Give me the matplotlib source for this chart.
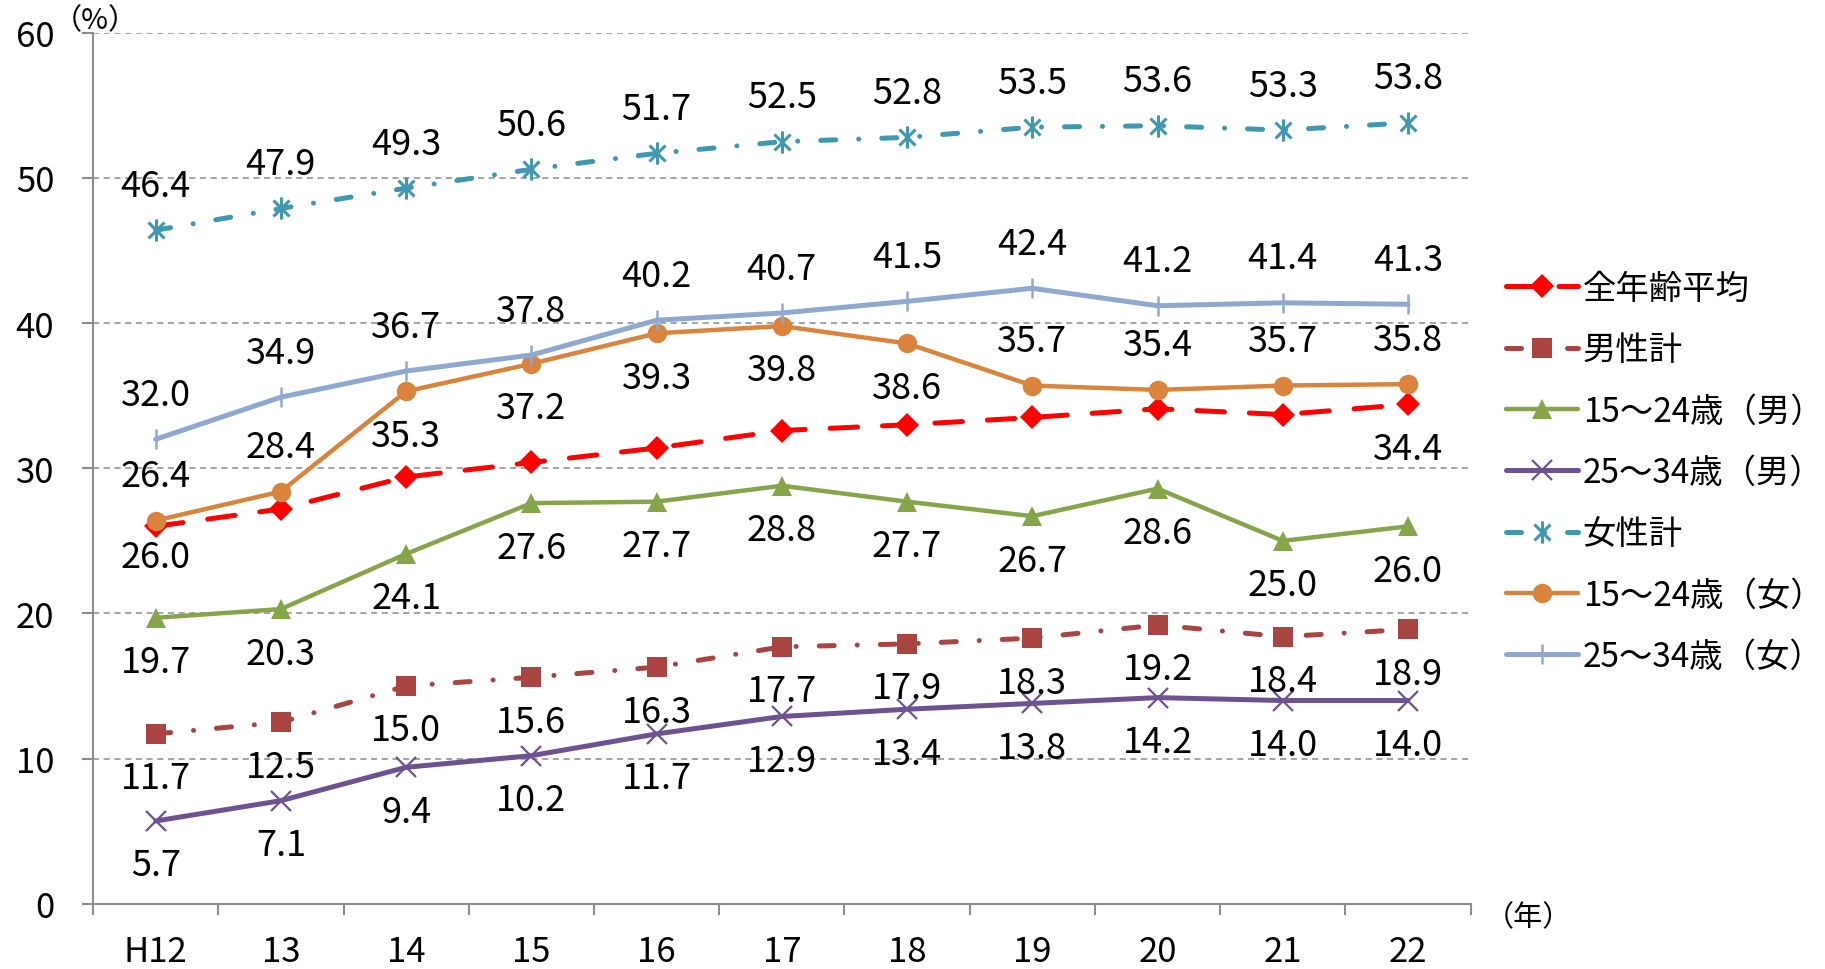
import numpy as np
import matplotlib
matplotlib.use("Agg")
import matplotlib.pyplot as plt
from matplotlib.path import Path

plt.rcParams['font.family'] = ['Noto Sans CJK JP', 'DejaVu Sans']

categories = ["H12", "13", "14", "15", "16", "17", "18", "19", "20", "21", "22"]

all_avg   = [26.0, 27.2, 29.4, 30.4, 31.4, 32.6, 33.0, 33.5, 34.1, 33.7, 34.4]
male      = [11.7, 12.5, 15.0, 15.6, 16.3, 17.7, 17.9, 18.3, 19.2, 18.4, 18.9]
male_1524 = [19.7, 20.3, 24.1, 27.6, 27.7, 28.8, 27.7, 26.7, 28.6, 25.0, 26.0]
male_2534 = [5.7, 7.1, 9.4, 10.2, 11.7, 12.9, 13.4, 13.8, 14.2, 14.0, 14.0]
female    = [46.4, 47.9, 49.3, 50.6, 51.7, 52.5, 52.8, 53.5, 53.6, 53.3, 53.8]
fem_1524  = [26.4, 28.4, 35.3, 37.2, 39.3, 39.8, 38.6, 35.7, 35.4, 35.7, 35.8]
fem_2534  = [32.0, 34.9, 36.7, 37.8, 40.2, 40.7, 41.5, 42.4, 41.2, 41.4, 41.3]

labels = ["全年齢平均", "男性計", "15～24歳（男）", "25～34歳（男）", "女性計", "15～24歳（女）", "25～34歳（女）"]

ast = Path([(0, -1), (0, 1), (-0.72, -0.72), (0.72, 0.72), (-0.72, 0.72), (0.72, -0.72)],
           [Path.MOVETO, Path.LINETO, Path.MOVETO, Path.LINETO, Path.MOVETO, Path.LINETO])

dashdot = (0, (3.0, 4.6, 0.01, 4.6))
dashed = (0, (5.5, 5.0))

styles = [
    dict(data=all_avg, color="#FF0000", ls=dashed, marker="D", ms=12, mew=0, lw=3.6,
         lab_idx=[0, 10], lab_dir=-1),
    dict(data=male, color="#A84542", ls=dashdot, marker="s", ms=14, mew=0, lw=3.6,
         lab_idx=range(11), lab_dir=-1),
    dict(data=male_1524, color="#86A44A", ls="-", marker="^", ms=15, mew=0, lw=3.2,
         lab_idx=range(11), lab_dir=-1),
    dict(data=male_2534, color="#6D5291", ls="-", marker="x", ms=14, mew=1.6, lw=3.6,
         lab_idx=range(11), lab_dir=-1),
    dict(data=female, color="#3F98AF", ls=dashdot, marker=ast, ms=16, mew=2.2, lw=3.6,
         lab_idx=range(11), lab_dir=1),
    dict(data=fem_1524, color="#DA833C", ls="-", marker="o", ms=14, mew=0, lw=3.2,
         lab_idx=range(11), lab_dir=[1, 1, -1, -1, -1, -1, -1, 1, 1, 1, 1]),
    dict(data=fem_2534, color="#8EA8D0", ls="-", marker="|", ms=15, mew=1.8, lw=3.6,
         lab_idx=range(11), lab_dir=1),
]

fig = plt.figure(figsize=(18.25, 9.7), dpi=100)
ax = fig.add_axes([0.0510, 0.0673, 0.7548, 0.8978])

x = np.arange(len(categories))
handles = []
for st, lab in zip(styles, labels):
    h, = ax.plot(x, st["data"], color=st["color"], linestyle=st["ls"], linewidth=st["lw"],
                 marker=st["marker"], markersize=st["ms"], markeredgewidth=st["mew"],
                 markerfacecolor=st["color"], markeredgecolor=st["color"],
                 dash_capstyle="round", solid_capstyle="round", label=lab, clip_on=False)
    handles.append(h)
    dirs = st["lab_dir"]
    for i in st["lab_idx"]:
        d = dirs[i] if isinstance(dirs, list) else dirs
        off = 32 * d
        if st["data"] is all_avg and i == 0:
            off = -22
        ax.annotate(f"{st['data'][i]:.1f}", (x[i], st["data"][i]), xytext=(0, off),
                    textcoords="offset points", ha="center", va="center", fontsize=26)

ax.set_xlim(-0.5, len(categories) - 0.5)
ax.set_ylim(0, 60)
ax.set_yticks(np.arange(0, 61, 10))
ax.set_xticks(np.arange(-0.5, len(categories), 1))
ax.set_xticklabels([])
ax.set_xticks(x, minor=True)
ax.set_xticklabels(categories, minor=True, fontsize=25)
ax.tick_params(axis="x", which="major", length=8, width=1.5, color="#8C8C8C", direction="out")
ax.tick_params(axis="x", which="minor", length=0, pad=22)
ax.tick_params(axis="y", length=8, width=1.5, color="#8C8C8C", pad=20, labelsize=25)
for lbl in ax.get_yticklabels():
    lbl.set_horizontalalignment("right")

ax.yaxis.grid(True, linestyle=(0, (4, 3)), color="#8C8C8C", linewidth=1.1)
ax.set_axisbelow(True)
for s in ["top", "right"]:
    ax.spines[s].set_visible(False)
for s in ["left", "bottom"]:
    ax.spines[s].set_color("#8C8C8C")
    ax.spines[s].set_linewidth(1.5)

fig.text(95 / 1825, 1 - 21 / 970, "（%）", ha="center", va="center", fontsize=21)
fig.text(1528 / 1825, 1 - 918 / 970, "（年）", ha="center", va="center", fontsize=21)

leg = fig.legend(handles=handles, loc="upper left", bbox_to_anchor=(1506 / 1825, 1 - 272 / 970),
                 frameon=False, fontsize=24, handlelength=2.15, handletextpad=0.15,
                 labelspacing=0.79, borderpad=0, borderaxespad=0)

fig.savefig("out.png", dpi=100)
